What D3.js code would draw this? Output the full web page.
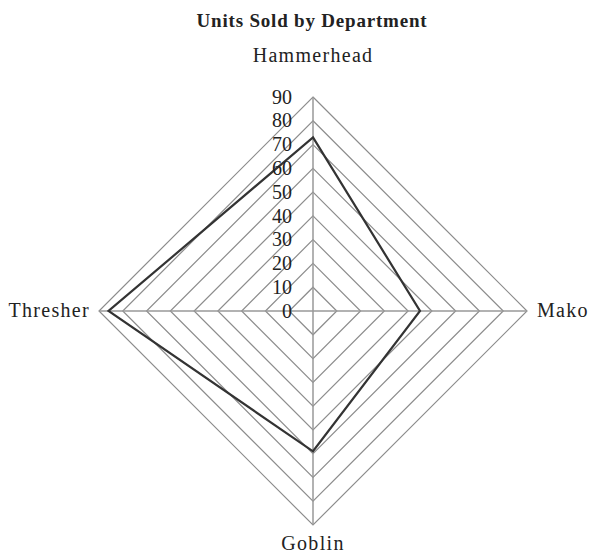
<!DOCTYPE html>
<html>
<head>
<meta charset="utf-8">
<script src="https://cdn.jsdelivr.net/npm/d3@7"></script>
<style>
  body { margin: 0; background: #fff; }
  text { font-family: "Liberation Serif", "Times New Roman", serif; fill: #222; }
</style>
</head>
<body>
<div id="chart"></div>
<script>
const width = 591;
const height = 554;

const title = 'Units Sold by Department';
const departments = ['Hammerhead', 'Mako', 'Goblin', 'Thresher'];
const unitsSold = [73, 45, 59, 86];
const tickValues = [0, 10, 20, 30, 40, 50, 60, 70, 80, 90];

const cx = 313;
const cy = 311;

const svg = d3.select('#chart').append('svg')
    .attr('width', width)
    .attr('height', height);

const g = svg.append('g')
    .attr('transform', `translate(${cx},${cy})`);

// radius scale for the values
const rScale = d3.scaleLinear()
    .domain([0, 90])
    .range([0, 214]);

// one spoke per department, clockwise from the top
const angleScale = d3.scaleBand()
    .domain(departments)
    .range([0, 2 * Math.PI]);

const ring = d3.lineRadial()
    .angle(d => angleScale(d.dept))
    .radius(d => rScale(d.value))
    .curve(d3.curveLinearClosed);

// grid rings
g.selectAll('.grid')
    .data(tickValues.slice(1))
    .join('path')
    .attr('class', 'grid')
    .attr('d', v => ring(departments.map(dept => ({ dept, value: v }))))
    .attr('fill', 'none')
    .attr('stroke', '#8c8c8c')
    .attr('stroke-width', 1.2);

// spokes
g.selectAll('.spoke')
    .data(departments)
    .join('line')
    .attr('class', 'spoke')
    .attr('x1', 0)
    .attr('y1', 0)
    .attr('x2', d => Math.sin(angleScale(d)) * rScale(90))
    .attr('y2', d => -Math.cos(angleScale(d)) * rScale(90))
    .attr('stroke', '#999')
    .attr('stroke-width', 1.5);

// data line
g.append('path')
    .datum(departments.map((dept, i) => ({ dept, value: unitsSold[i] })))
    .attr('d', ring)
    .attr('fill', 'none')
    .attr('stroke', '#333')
    .attr('stroke-width', 2.2)
    .attr('stroke-linejoin', 'miter');

// tick labels along the top spoke
g.selectAll('.tick-label')
    .data(tickValues)
    .join('text')
    .attr('class', 'tick-label')
    .attr('x', -21)
    .attr('y', d => -rScale(d))
    .attr('dy', '0.33em')
    .attr('text-anchor', 'end')
    .attr('font-size', 20)
    .text(d => d);

// department labels
const labelPos = {
    Hammerhead: { x: 0, y: -249, anchor: 'middle' },
    Mako: { x: 224, y: 6, anchor: 'start' },
    Goblin: { x: 0, y: 239, anchor: 'middle' },
    Thresher: { x: -223, y: 6, anchor: 'end' }
};

g.selectAll('.dept-label')
    .data(departments)
    .join('text')
    .attr('class', 'dept-label')
    .attr('x', d => labelPos[d].x)
    .attr('y', d => labelPos[d].y)
    .attr('text-anchor', d => labelPos[d].anchor)
    .attr('font-size', 20)
    .attr('letter-spacing', 1.3)
    .text(d => d);

svg.append('text')
    .attr('x', 312)
    .attr('y', 27)
    .attr('text-anchor', 'middle')
    .attr('font-size', 19)
    .attr('font-weight', 'bold')
    .attr('letter-spacing', 0.8)
    .text(title);
</script>
</body>
</html>
